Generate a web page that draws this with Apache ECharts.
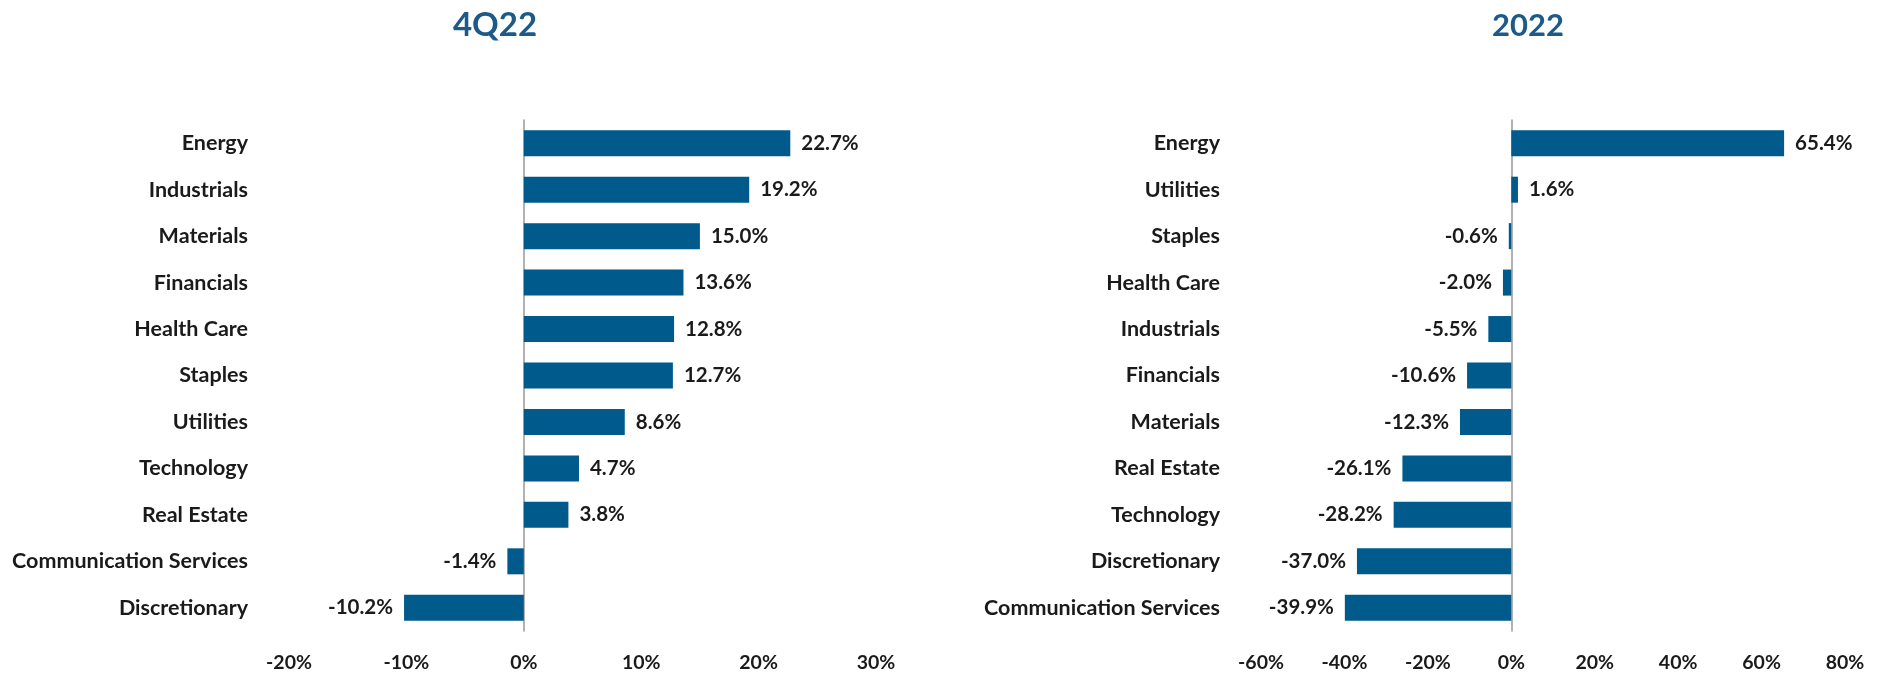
<!DOCTYPE html>
<html><head><meta charset="utf-8">
<script src="https://cdn.jsdelivr.net/npm/echarts@6/dist/echarts.min.js"></script>
<style>html,body{margin:0;padding:0;background:#fff}#c{width:1881px;height:673px}</style>
</head><body><div id="c"></div>
<script>
const leftTitle = '4Q22';
const rightTitle = '2022';
const leftCategories = ['Energy','Industrials','Materials','Financials','Health Care','Staples','Utilities','Technology','Real Estate','Communication Services','Discretionary'];
const leftValues = [22.7,19.2,15.0,13.6,12.8,12.7,8.6,4.7,3.8,-1.4,-10.2];
const rightCategories = ['Energy','Utilities','Staples','Health Care','Industrials','Financials','Materials','Real Estate','Technology','Discretionary','Communication Services'];
const rightValues = [65.4,1.6,-0.6,-2.0,-5.5,-10.6,-12.3,-26.1,-28.2,-37.0,-39.9];
const leftTicks = {min:-20,max:30,interval:10};
const rightTicks = {min:-60,max:80,interval:20};

const FONT = 'Lato';
const BLUE = '#005a8c';
const TXT = '#1a1a1a';
const chart = echarts.init(document.getElementById('c'));
function valAxis(idx, t){
  return {type:'value',gridIndex:idx,min:t.min,max:t.max,interval:t.interval,
    splitLine:{show:false},axisLine:{show:false},axisTick:{show:false},
    axisLabel:{formatter:v=>v+'%',color:TXT,fontFamily:FONT,fontWeight:'bold',fontSize:19.5,margin:22}};
}
function catAxis(idx, cats){
  return {type:'category',gridIndex:idx,data:cats,inverse:true,
    axisLine:{show:true,onZero:true,lineStyle:{color:'#999',width:1.5}},axisTick:{show:false},
    axisLabel:{color:TXT,fontFamily:FONT,fontWeight:'bold',fontSize:21.5,margin:41}};
}
function barSeries(idx, vals){
  return {type:'bar',xAxisIndex:idx,yAxisIndex:idx,
    data:vals.map(v=>({value:v,label:{position:v<0?'left':'right'}})),
    barCategoryGap:'44%',
    itemStyle:{color:BLUE},
    label:{show:true,distance:11,color:TXT,fontFamily:FONT,fontWeight:'bold',fontSize:20.5,
      formatter:p=>p.value.toFixed(1)+'%'}};
}
chart.setOption({
  animation:false,
  title:[
    {text:leftTitle,left:490,top:4,textAlign:'center',textStyle:{color:'#1d5a88',fontFamily:FONT,fontWeight:'bold',fontSize:33}},
    {text:rightTitle,left:1523,top:5,textAlign:'center',textStyle:{color:'#1d5a88',fontFamily:FONT,fontWeight:'bold',fontSize:31}}
  ],
  grid:[
    {left:289,width:587,top:120,height:511},
    {left:1261,width:584,top:120,height:511}
  ],
  xAxis:[valAxis(0,leftTicks),valAxis(1,rightTicks)],
  yAxis:[catAxis(0,leftCategories),catAxis(1,rightCategories)],
  series:[barSeries(0,leftValues),barSeries(1,rightValues)]
});
</script>
</body></html>
